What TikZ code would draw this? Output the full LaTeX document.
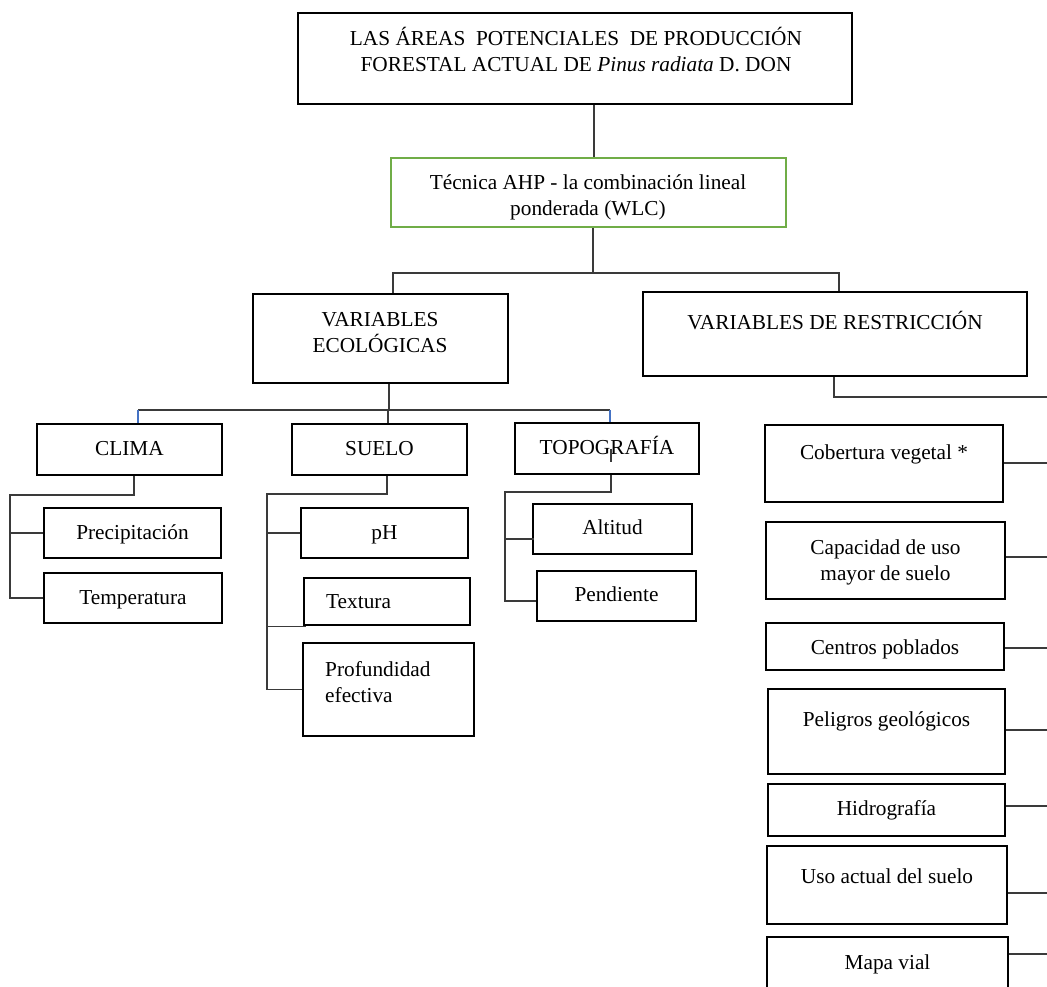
\documentclass[tikz,border=0pt]{standalone}
\usepackage{fontspec}
\setmainfont{Liberation Serif}
\usetikzlibrary{fit}
\definecolor{boxgreen}{HTML}{70AD47}
\definecolor{linkblue}{HTML}{4472C4}
\definecolor{conngray}{HTML}{3A3A3A}
\tikzset{
  box/.style={draw=black, line width=2.8pt, inner sep=0pt},
  greenbox/.style={draw=boxgreen, line width=2.4pt, inner sep=0pt},
  txt/.style={font=\fontsize{21.3}{26}\selectfont, inner sep=0pt, text height=14pt, text depth=4.5pt},
  mtxt/.style={font=\fontsize{21.3}{26}\selectfont, inner sep=0pt, align=center},
  conn/.style={draw=conngray, line width=1.3pt},
  bconn/.style={draw=linkblue, line width=1.3pt},
}
\begin{document}
\begin{tikzpicture}[x=1pt,y=-1pt]
\useasboundingbox (0,0) rectangle (1047,987);
\fill[white] (0,0) rectangle (1047,987);

% ---------- boxes ----------
\node[box, fit={(298,13) (852,104)}] (title) {};
\node[greenbox, fit={(391,158) (786,227)}] (green) {};
\node[box, fit={(253,294) (508,383)}] (ve) {};
\node[box, fit={(643,292) (1027,376)}] (vr) {};
\node[box, fit={(37,424) (222,475)}] (clima) {};
\node[box, fit={(292,424) (467,475)}] (suelo) {};
\node[box, fit={(515,423) (699,474)}] (topo) {};
\node[box, fit={(44,508) (221,558)}] (precip) {};
\node[box, fit={(44,573) (222,623)}] (temp) {};
\node[box, fit={(301,508) (468,558)}] (ph) {};
\node[box, fit={(304,578) (470,625)}] (textura) {};
\node[box, fit={(303,643) (474,736)}] (prof) {};
\node[box, fit={(533,504) (692,554)}] (alt) {};
\node[box, fit={(537,571) (696,621)}] (pend) {};
\node[box, fit={(765,425) (1003,502)}] (cob) {};
\node[box, fit={(766,522) (1005,599)}] (cap) {};
\node[box, fit={(766,623) (1004,670)}] (cen) {};
\node[box, fit={(768,689) (1005,774)}] (pel) {};
\node[box, fit={(768,784) (1005,836)}] (hid) {};
\node[box, fit={(767,846) (1007,924)}] (uso) {};
\node[box, fit={(767,937) (1008,1010)}] (mapa) {};

% ---------- texts ----------
\node[mtxt] (title-t) at (576,50) {LAS ÁREAS~ POTENCIALES~ DE PRODUCCIÓN\\FORESTAL ACTUAL DE \textit{Pinus radiata} D. DON};
\node[mtxt] (green-t) at (588,197) {Técnica AHP - la combinación lineal\\ponderada (WLC)};
\node[mtxt] (ve-t) at (380,333) {VARIABLES\\ECOLÓGICAS};
\node[txt] (vr-t) at (835,325) {VARIABLES DE RESTRICCIÓN};
\node[txt] (clima-t) at (129.5,451) {CLIMA};
\node[txt] (suelo-t) at (379.5,451) {SUELO};
\node[txt] (topo-t) at (607,450) {TOPOGRAFÍA};
\node[txt] (precip-t) at (132.5,535) {Precipitación};
\node[txt] (temp-t) at (133,600) {Temperatura};
\node[txt] (ph-t) at (384.5,535) {pH};
\node[txt, anchor=west] (textura-t) at (326,604) {Textura};
\node[mtxt, align=left, anchor=west] (prof-t) at (325,682) {Profundidad\\efectiva};
\node[txt] (alt-t) at (612.5,530) {Altitud};
\node[txt] (pend-t) at (616.5,597) {Pendiente};
\node[txt] (cob-t) at (884,455) {Cobertura vegetal *};
\node[mtxt] (cap-t) at (885.5,562) {Capacidad de uso\\mayor de suelo};
\node[txt] (cen-t) at (885,650) {Centros poblados};
\node[txt] (pel-t) at (886.5,722) {Peligros geológicos};
\node[txt] (hid-t) at (886.5,811) {Hidrografía};
\node[txt] (uso-t) at (887,879) {Uso actual del suelo};
\node[txt] (mapa-t) at (887.5,965) {Mapa vial};

% ---------- junction coordinates ----------
\coordinate (c1) at (594,0);
\coordinate (bus1M) at (593,273);
\coordinate (bus1L) at (393,273);
\coordinate (bus1R) at (839,273);
\coordinate (bus2M) at (389,410);
\coordinate (bus2S) at (388,410);
\coordinate (bus2L) at (138,410);
\coordinate (bus2R) at (610,410);
\coordinate (cA) at (134,495);
\coordinate (cB) at (10,495);
\coordinate (sA) at (387,494);
\coordinate (sB) at (267,494);
\coordinate (tA) at (611,492);
\coordinate (tB) at (505,492);
\coordinate (tC) at (505,601);
\coordinate (tD) at (505,539);
\coordinate (rA) at (834,397);
\coordinate (rE) at (1047,397);
\coordinate (e1) at (1047,463);
\coordinate (e2) at (1047,557);
\coordinate (e3) at (1047,648);
\coordinate (e4) at (1047,730);
\coordinate (e5) at (1047,806);
\coordinate (e6) at (1047,893);
\coordinate (e7) at (1047,954);

% ---------- connectors ----------
\draw[conn] (title.south -| c1) -- (green.north -| c1);
\draw[conn] (green.south -| bus1M) -- (bus1M);
\draw[conn] (ve.north -| bus1L) -- (bus1L) -- (bus1R) -- (vr.north -| bus1R);

\draw[conn] (ve.south -| bus2M) -- (bus2M);
\draw[conn] (bus2L) -- (bus2R);
\draw[bconn] (bus2L) -- (clima.north -| bus2L);
\draw[bconn] (bus2R) -- (topo.north -| bus2R);
\draw[conn] (bus2S) -- (suelo.north -| bus2S);

\draw[conn] (clima.south -| cA) -- (cA) -- (cB) |- (temp.west);
\draw[conn] (cB |- precip.west) -- (precip.west);

\draw[conn] (suelo.south -| sA) -- (sA) -- (sB) |- (prof.west);
\draw[conn] (sB |- ph.west) -- (ph.west);
\draw[conn] (sB |- textura.south west) -- ([xshift=3pt]textura.south west);

\draw[conn] (topo.center -| tA) -- ([yshift=-13pt]topo.center -| tA);
\draw[conn] (topo.south -| tA) -- (tA) -- (tB) -- (tC) -- (pend.west |- tC);
\draw[conn] (tD) -- ([xshift=2pt]alt.west |- tD);

\draw[conn] (vr.south -| rA) -- (rA) -- (rE);
\draw[conn] (cob.east |- e1) -- (e1);
\draw[conn] (cap.east |- e2) -- (e2);
\draw[conn] (cen.east |- e3) -- (e3);
\draw[conn] (pel.east |- e4) -- (e4);
\draw[conn] (hid.east |- e5) -- (e5);
\draw[conn] (uso.east |- e6) -- (e6);
\draw[conn] (mapa.east |- e7) -- (e7);
\end{tikzpicture}
\end{document}
